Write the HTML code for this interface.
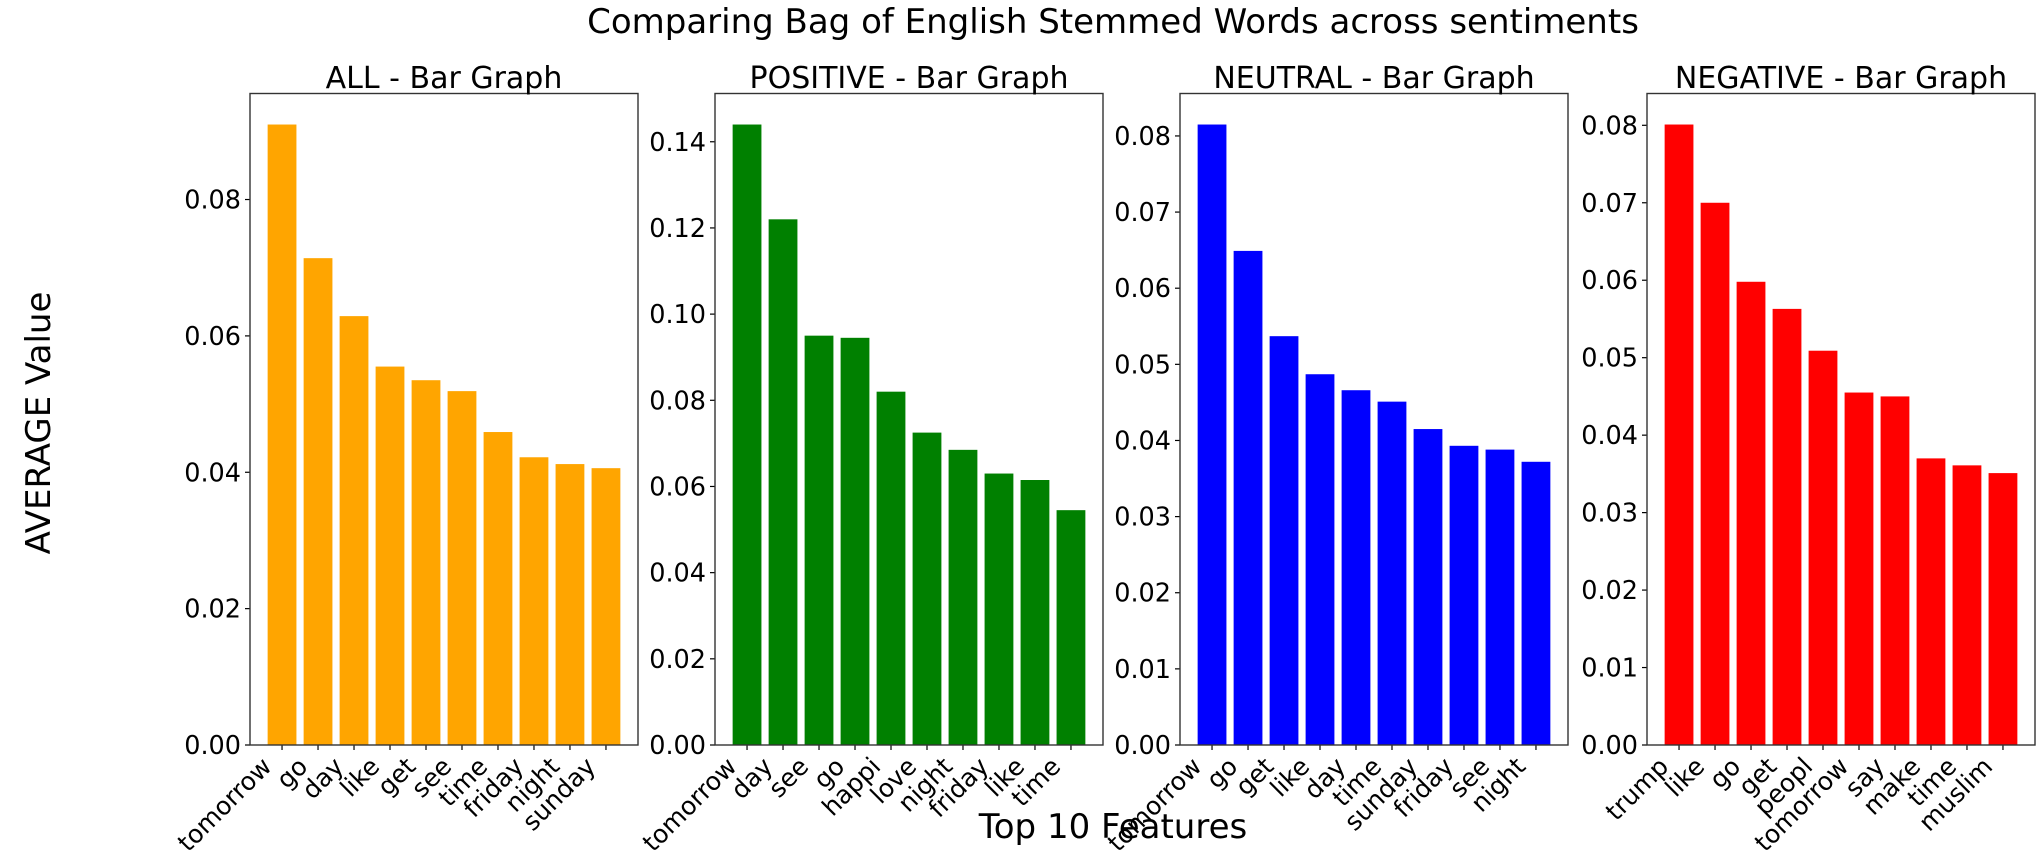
<!DOCTYPE html>
<html><head><meta charset="utf-8"><style>
html,body{margin:0;padding:0;background:#fff;}
svg{display:block;font-family:"DejaVu Sans","Liberation Sans",sans-serif;}
</style></head><body>
<svg id="fig" width="2041" height="866" viewBox="0 0 2041 866" xmlns="http://www.w3.org/2000/svg">
<text x="1113" y="33" font-size="34" text-anchor="middle">Comparing Bag of English Stemmed Words across sentiments</text>
<text x="0" y="0" font-size="34" text-anchor="middle" transform="translate(50,423) rotate(-90)">AVERAGE Value</text>
<text x="1113" y="838" font-size="34" text-anchor="middle">Top 10 Features</text>
</svg>
<script>
const titles = ["ALL - Bar Graph","POSITIVE - Bar Graph","NEUTRAL - Bar Graph","NEGATIVE - Bar Graph"];
const colors = ["#ffa500","#008000","#0000ff","#ff0000"];
const catsAll = ["tomorrow","go","day","like","get","see","time","friday","night","sunday"];
const valsAll = [0.0910,0.0714,0.0629,0.0555,0.0535,0.0519,0.0459,0.0422,0.0412,0.0406];
const catsPos = ["tomorrow","day","see","go","happi","love","night","friday","like","time"];
const valsPos = [0.144,0.122,0.095,0.0945,0.082,0.0725,0.0685,0.063,0.0615,0.0545];
const catsNeu = ["tomorrow","go","get","like","day","time","sunday","friday","see","night"];
const valsNeu = [0.0815,0.0649,0.0537,0.0487,0.0466,0.0451,0.0415,0.0393,0.0388,0.0372];
const catsNeg = ["trump","like","go","get","peopl","tomorrow","say","make","time","muslim"];
const valsNeg = [0.0801,0.0700,0.0598,0.0563,0.0509,0.0455,0.0450,0.0370,0.0361,0.0351];
const ticksAll = [0,0.02,0.04,0.06,0.08];
const ticksPos = [0,0.02,0.04,0.06,0.08,0.10,0.12,0.14];
const ticksNeu = [0,0.01,0.02,0.03,0.04,0.05,0.06,0.07,0.08];
const ticksNeg = [0,0.01,0.02,0.03,0.04,0.05,0.06,0.07,0.08];
const panelNames = ["all","positive","neutral","negative"];

const NS="http://www.w3.org/2000/svg";
const svg=document.getElementById('fig');
const lefts=[250,715,1180,1647];
const W=388, TOP=93.5, BOT=745;
const cats=[catsAll,catsPos,catsNeu,catsNeg];
const vals=[valsAll,valsPos,valsNeu,valsNeg];
const ticks=[ticksAll,ticksPos,ticksNeu,ticksNeg];
function mk(tag,attrs,parent){const e=document.createElementNS(NS,tag);for(const k in attrs)e.setAttribute(k,attrs[k]);(parent||svg).appendChild(e);return e;}
for(let p=0;p<4;p++){
  const L=lefts[p], n=cats[p].length;
  const ymax=Math.max(...vals[p])*1.05;
  const xs=i=>L+(i+0.89)/(n-1+1.78)*W;
  const unit=W/(n-1+1.78);
  const ys=v=>BOT-(v/ymax)*(BOT-TOP);
  const g=mk('g',{});
  
  
  for(let i=0;i<n;i++){
    const r=mk('rect',{x:xs(i)-0.4*unit,y:ys(vals[p][i]),width:0.8*unit,height:BOT-ys(vals[p][i]),fill:colors[p]},g);
    
    
    const tk=mk('line',{x1:xs(i),x2:xs(i),y1:BOT,y2:BOT+5,stroke:'#000','stroke-width':1.2},g);
    
    
    const t=mk('text',{'font-size':25,'text-anchor':'end',transform:`translate(${xs(i)-9},${BOT+23}) rotate(-45)`},g);
    
    
    t.textContent=cats[p][i];
  }
  ticks[p].forEach(v=>{
    const y=ys(v);
    const tl=mk('line',{x1:L-5,x2:L,y1:y,y2:y,stroke:'#000','stroke-width':1.2},g);
    
    
    const t=mk('text',{x:L-9,y:y+9,'font-size':25.5,'text-anchor':'end'},g);
    
    
    t.textContent=v.toFixed(2);
  });
  const fr=mk('rect',{x:L,y:TOP,width:W,height:BOT-TOP,fill:'none',stroke:'#333','stroke-width':1.4},g);
  
  
  const tt=mk('text',{x:L+W/2,y:88,'font-size':30,'text-anchor':'middle'},g);
  
  
  tt.textContent=titles[p];
}
</script>
</body></html>
